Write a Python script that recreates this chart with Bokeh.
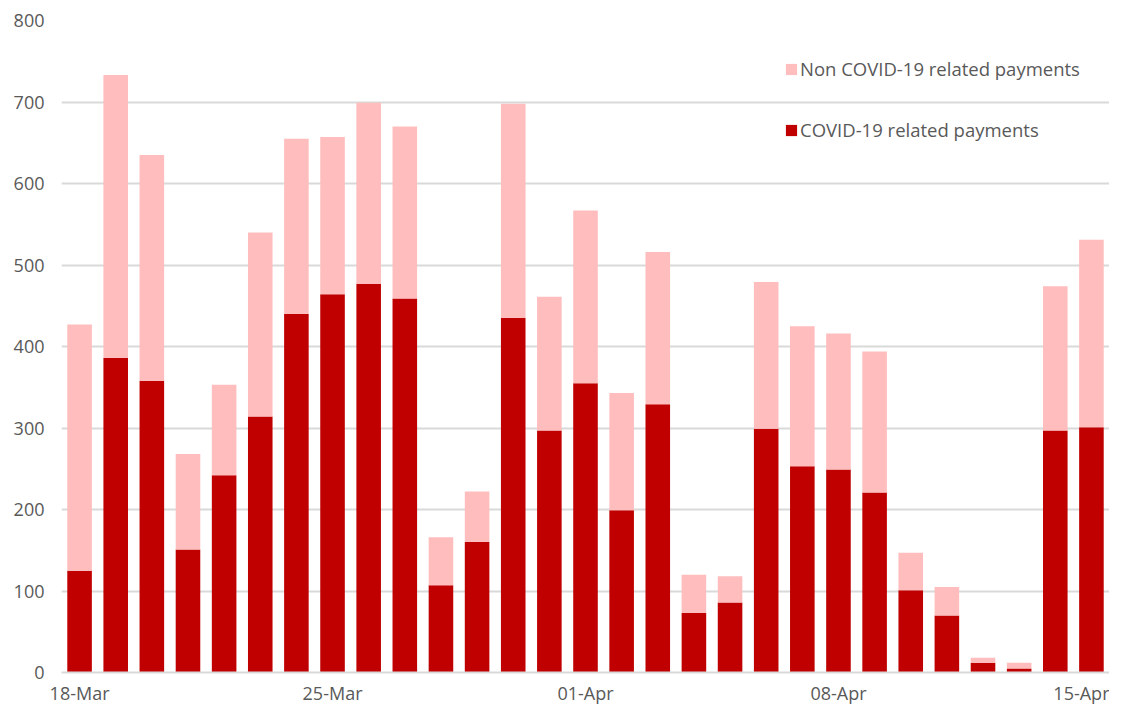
from bokeh.plotting import figure
from bokeh.models import ColumnDataSource, FixedTicker, Legend, LegendItem, Range1d
from bokeh.embed import file_html
from bokeh.resources import INLINE

dates = ["18-Mar", "19-Mar", "20-Mar", "21-Mar", "22-Mar", "23-Mar", "24-Mar",
         "25-Mar", "26-Mar", "27-Mar", "28-Mar", "29-Mar", "30-Mar", "31-Mar",
         "01-Apr", "02-Apr", "03-Apr", "04-Apr", "05-Apr", "06-Apr", "07-Apr",
         "08-Apr", "09-Apr", "10-Apr", "11-Apr", "12-Apr", "13-Apr", "14-Apr",
         "15-Apr"]
covid = [125, 386, 358, 151, 242, 314, 440, 464, 477, 459, 107, 160, 435, 297,
         355, 199, 329, 73, 86, 299, 253, 249, 221, 101, 70, 12, 5, 297, 301]
non_covid = [302, 347, 277, 117, 111, 226, 215, 193, 222, 211, 59, 62, 263, 164,
             212, 144, 187, 47, 32, 180, 172, 167, 173, 46, 35, 6, 7, 177, 230]
y_ticks = [0, 100, 200, 300, 400, 500, 600, 700, 800]
x_tick_idx = [0, 7, 14, 21, 28]

FONT = "Open Sans"
TXT = "#595959"
GRID = "#D9D9D9"
C_COVID = "#C00000"
C_NON = "#FFBDBD"

src = ColumnDataSource(dict(x=list(range(len(dates))), date=dates,
                            covid=covid, non_covid=non_covid))

p = figure(width=1109, height=707, output_backend="svg", toolbar_location=None,
           x_range=Range1d(-0.5, len(dates) - 0.5), y_range=Range1d(0, 800),
           min_border_left=61, min_border_right=0, min_border_top=20,
           min_border_bottom=35)
p.outline_line_color = None
p.background_fill_color = "white"
p.border_fill_color = "white"

r = p.vbar_stack(["covid", "non_covid"], x="x", width=0.68, source=src,
                 color=[C_COVID, C_NON], line_color=None)

p.xgrid.grid_line_color = None
p.ygrid.grid_line_color = GRID
p.ygrid.grid_line_width = 2
p.ygrid.ticker = FixedTicker(ticks=y_ticks)

p.yaxis.ticker = FixedTicker(ticks=y_ticks)
p.yaxis.axis_line_color = None
p.yaxis.major_tick_line_color = None
p.yaxis.major_tick_out = 0
p.yaxis.major_tick_in = 0
p.yaxis.minor_tick_line_color = None
p.yaxis.major_label_standoff = 17
p.yaxis.major_label_text_font = FONT
p.yaxis.major_label_text_font_size = "18px"
p.yaxis.major_label_text_color = TXT

p.xaxis.ticker = FixedTicker(ticks=x_tick_idx)
p.xaxis.major_label_overrides = {i: dates[i] for i in x_tick_idx}
p.xaxis.axis_line_color = GRID
p.xaxis.axis_line_width = 2
p.xaxis.major_tick_line_color = None
p.xaxis.major_tick_out = 0
p.xaxis.major_tick_in = 0
p.xaxis.minor_tick_line_color = None
p.xaxis.major_label_standoff = 8
p.xaxis.major_label_text_font = FONT
p.xaxis.major_label_text_font_size = "18px"
p.xaxis.major_label_text_color = TXT

legend = Legend(items=[LegendItem(label="Non COVID-19 related payments", renderers=[r[1]]),
                       LegendItem(label="COVID-19 related payments", renderers=[r[0]])],
                location=(723, 530), orientation="vertical",
                padding=0, margin=0, spacing=36,
                glyph_width=14, glyph_height=14, label_height=20,
                label_standoff=2,
                label_text_font=FONT, label_text_font_size="18.5px",
                label_text_color=TXT,
                border_line_color=None, background_fill_alpha=0)
p.add_layout(legend, "center")

open("out.html", "w").write(file_html(p, INLINE))
